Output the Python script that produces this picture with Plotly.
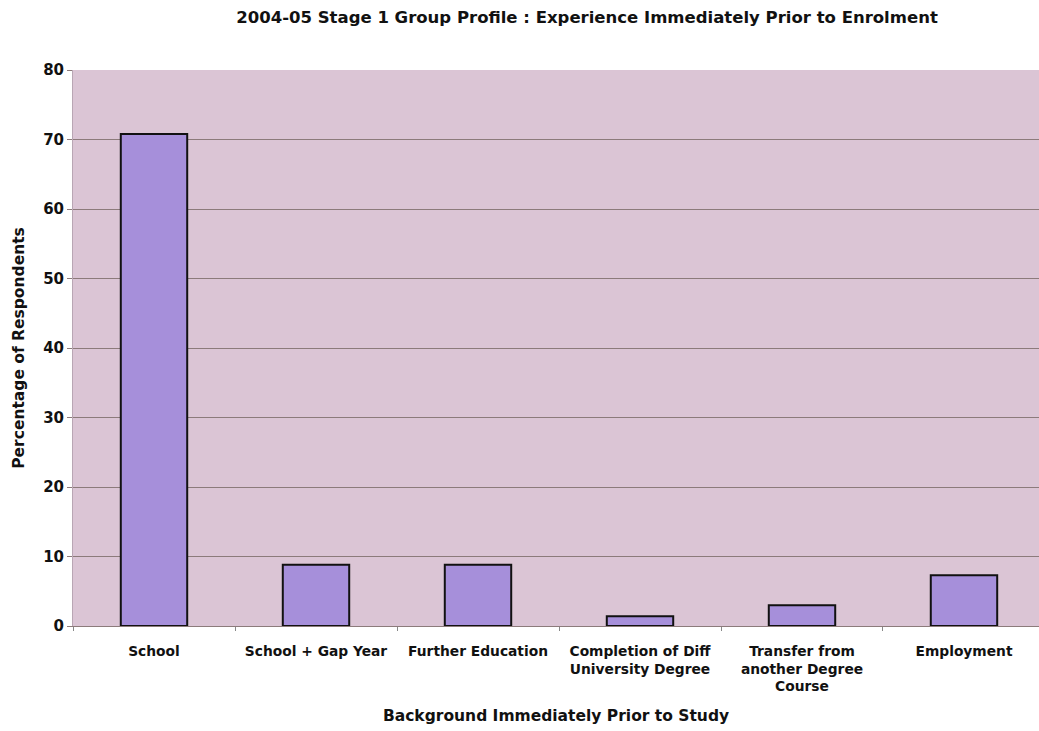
import plotly.graph_objects as go

# Background immediately prior to study (category labels, line-broken as printed)
categories = [
    "School",
    "School + Gap Year",
    "Further Education",
    "Completion of Diff<br>University Degree",
    "Transfer from<br>another Degree<br>Course",
    "Employment",
]
# Percentage of respondents per category
percentages = [70.8, 8.8, 8.8, 1.4, 3.0, 7.3]

y_ticks = [0, 10, 20, 30, 40, 50, 60, 70, 80]

font_family = "DejaVu Sans, Verdana, sans-serif"

fig = go.Figure(
    go.Bar(
        x=categories,
        y=percentages,
        width=0.41,
        marker=dict(color="#a68fda", line=dict(color="#111111", width=2)),
        hoverinfo="x+y",
    )
)

fig.update_layout(
    width=1039,
    height=731,
    margin=dict(l=73, r=0, t=70, b=105),
    paper_bgcolor="#ffffff",
    plot_bgcolor="#dbc5d5",
    showlegend=False,
    font=dict(family=font_family, color="#111111"),
    title=dict(
        text="<b>2004-05 Stage 1 Group Profile : Experience Immediately Prior to Enrolment</b>",
        x=0.565,
        xanchor="center",
        y=0.976,
        yanchor="middle",
        font=dict(size=16.5, family=font_family, color="#111111"),
    ),
)

fig.update_xaxes(
    range=[-0.5, 5.463],
    tickvals=categories,
    ticktext=[f"<b>{c}</b>" for c in categories],
    tickfont=dict(size=13.8, family=font_family, color="#111111"),
    tickson="boundaries",
    ticks="outside",
    ticklen=4,
    tickcolor="#888888",
    ticklabelstandoff=12,
    showline=True,
    linecolor="#8c7b7b",
    linewidth=1,
    showgrid=False,
    title=dict(
        text="<b>Background Immediately Prior to Study</b>",
        font=dict(size=15.5, family=font_family, color="#111111"),
        standoff=16,
    ),
)

fig.update_yaxes(
    range=[0, 80],
    tickvals=y_ticks,
    ticktext=[f"<b>{v}</b>" for v in y_ticks],
    tickfont=dict(size=15, family=font_family, color="#111111"),
    ticks="outside",
    ticklen=5,
    tickcolor="#8c7b7b",
    showgrid=True,
    gridcolor="#8c7b7b",
    gridwidth=1,
    zeroline=False,
    showline=True,
    linecolor="#b9a6b4",
    title=dict(
        text="<b>Percentage of Respondents</b>",
        font=dict(size=15.5, family=font_family, color="#111111"),
        standoff=14,
    ),
)

fig.write_html("out.html")
